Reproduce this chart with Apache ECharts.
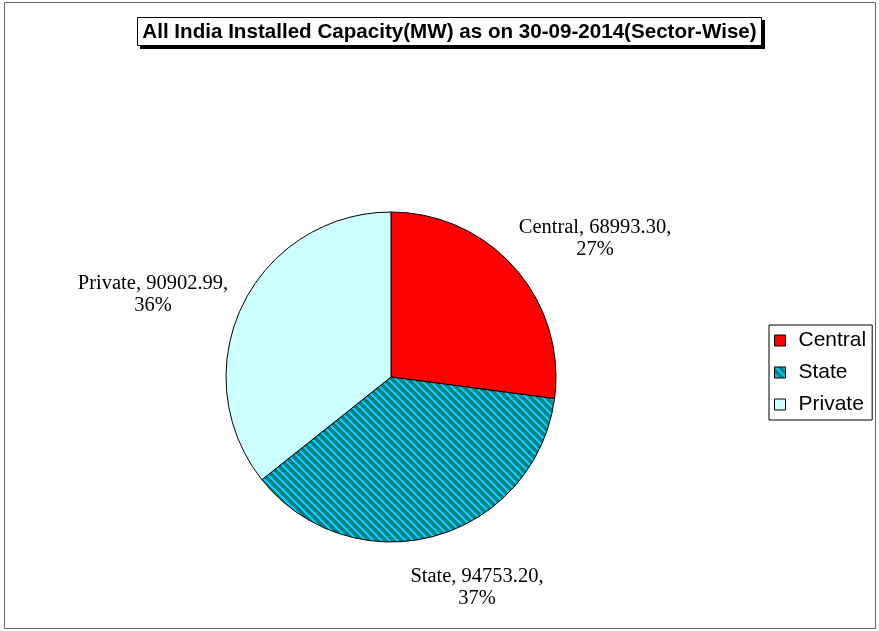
<!DOCTYPE html>
<html>
<head>
<meta charset="utf-8">
<script src="https://cdn.jsdelivr.net/npm/echarts@6/dist/echarts.min.js"></script>
<style>
html,body{margin:0;padding:0;background:#fff;}
#chart{width:879px;height:631px;}
</style>
</head>
<body>
<div id="chart"></div>
<script>
var categories = ['Central', 'State', 'Private'];
var capacityMW = [68993.30, 94753.20, 90902.99];
var titleText = 'All India Installed Capacity(MW) as on 30-09-2014(Sector-Wise)';

// styling (not data)
var labelPos = [[595, 239], [477, 588], [153, 295]];

function stripePattern() {
  var c = document.createElement('canvas');
  c.width = 8; c.height = 8;
  var ctx = c.getContext('2d');
  var img = ctx.createImageData(8, 8);
  for (var y = 0; y < 8; y++) {
    for (var x = 0; x < 8; x++) {
      var k = ((x - y) % 8 + 8) % 8;
      var i = (y * 8 + x) * 4;
      if (k < 3) { img.data[i] = 0; img.data[i+1] = 204; img.data[i+2] = 255; }
      else { img.data[i] = 0; img.data[i+1] = 128; img.data[i+2] = 128; }
      img.data[i+3] = 255;
    }
  }
  ctx.putImageData(img, 0, 0);
  return c;
}

var colors = ['#FF0000', {image: stripePattern(), repeat: 'repeat'}, '#CCFFFF'];

var chart = echarts.init(document.getElementById('chart'), null, {renderer: 'canvas'});
var seriesData = categories.map(function (n, i) {
  return {name: n, value: capacityMW[i], itemStyle: {color: colors[i]}};
});

chart.setOption({
  animation: false,
  backgroundColor: '#fff',
  graphic: [
    {type: 'rect', shape: {x: 4.5, y: 2.5, width: 871, height: 626}, style: {fill: 'none', stroke: '#666', lineWidth: 1}, z: 0},
    {type: 'rect', shape: {x: 140, y: 20, width: 625, height: 29}, style: {fill: '#000'}, z: 1},
    {type: 'rect', shape: {x: 137.5, y: 17.5, width: 624, height: 28}, style: {fill: '#fff', stroke: '#000', lineWidth: 1}, z: 2},
    {type: 'text', x: 449.5, y: 32, z: 3, style: {text: titleText, align: 'center', verticalAlign: 'middle', fill: '#000', font: 'bold 20.6px "Liberation Sans", Arial, sans-serif'}}
  ],
  legend: {
    orient: 'vertical',
    left: 769, top: 325,
    padding: [5, 6, 5, 5],
    itemWidth: 11, itemHeight: 11,
    itemGap: 11,
    icon: 'rect',
    borderColor: '#000', borderWidth: 1,
    backgroundColor: '#fff',
    data: categories,
    textStyle: {fontFamily: 'Liberation Sans, Arial', fontSize: 21, lineHeight: 21, color: '#000', padding: [0, 0, 0, 8]},
    itemStyle: {borderColor: '#000', borderWidth: 1}
  },
  series: [{
    type: 'pie',
    center: [391, 377],
    radius: [0, 165],
    startAngle: 90,
    clockwise: true,
    data: seriesData,
    itemStyle: {borderColor: '#000', borderWidth: 1},
    label: {
      show: true,
      color: '#000',
      fontFamily: 'Liberation Serif, Times New Roman',
      fontSize: 20.5,
      lineHeight: 22,
      formatter: function (p) {
        return p.name + ', ' + p.value.toFixed(2) + ',\n' + Math.round(p.percent) + '%';
      }
    },
    labelLine: {show: false},
    labelLayout: function (params) {
      var pos = labelPos[params.dataIndex];
      return {x: pos[0], y: pos[1], align: 'center', verticalAlign: 'middle'};
    },
    emphasis: {disabled: true}
  }]
});
</script>
</body>
</html>
